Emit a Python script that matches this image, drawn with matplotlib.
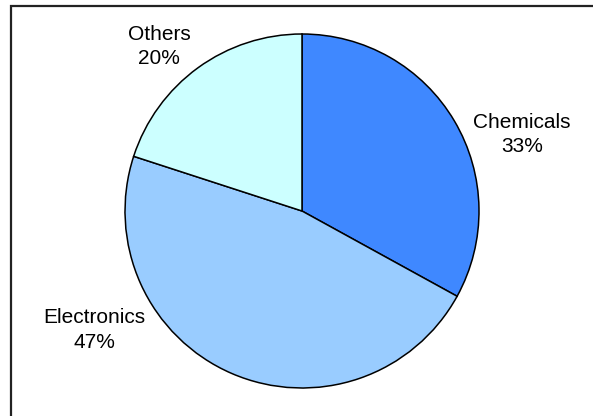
import matplotlib.pyplot as plt
from matplotlib.patches import Rectangle

W, H = 593, 416

labels = ["Chemicals", "Electronics", "Others"]
shares = [33, 47, 20]
colors = ["#3F88FF", "#99CCFF", "#CCFFFF"]
label_pos = [(522, 134.5), (94, 330), (159, 46.5)]  # pixel coords from top-left

fig = plt.figure(figsize=(W / 100, H / 100), dpi=100)
ax = fig.add_axes([0, 0, 1, 1])

# chart frame (right and bottom edges run off the image)
ax.add_patch(Rectangle((11, -20), W + 40, H - 5.5 + 20, fill=False,
                       edgecolor="#222222", linewidth=1.6, zorder=0))

wedges, _ = ax.pie(shares, colors=colors, startangle=90, counterclock=False,
                   center=(302, H - 211), radius=177, frame=True,
                   wedgeprops=dict(edgecolor="black", linewidth=1.1))
ax.set_xlim(0, W)
ax.set_ylim(0, H)
ax.set_aspect("equal")
ax.axis("off")

for lab, val, (x, y) in zip(labels, shares, label_pos):
    ax.text(x, H - y, f"{lab}\n{val}%", ha="center", va="center",
            fontsize=15, family="Liberation Sans", linespacing=1.35)

fig.savefig("out.png", dpi=100)
